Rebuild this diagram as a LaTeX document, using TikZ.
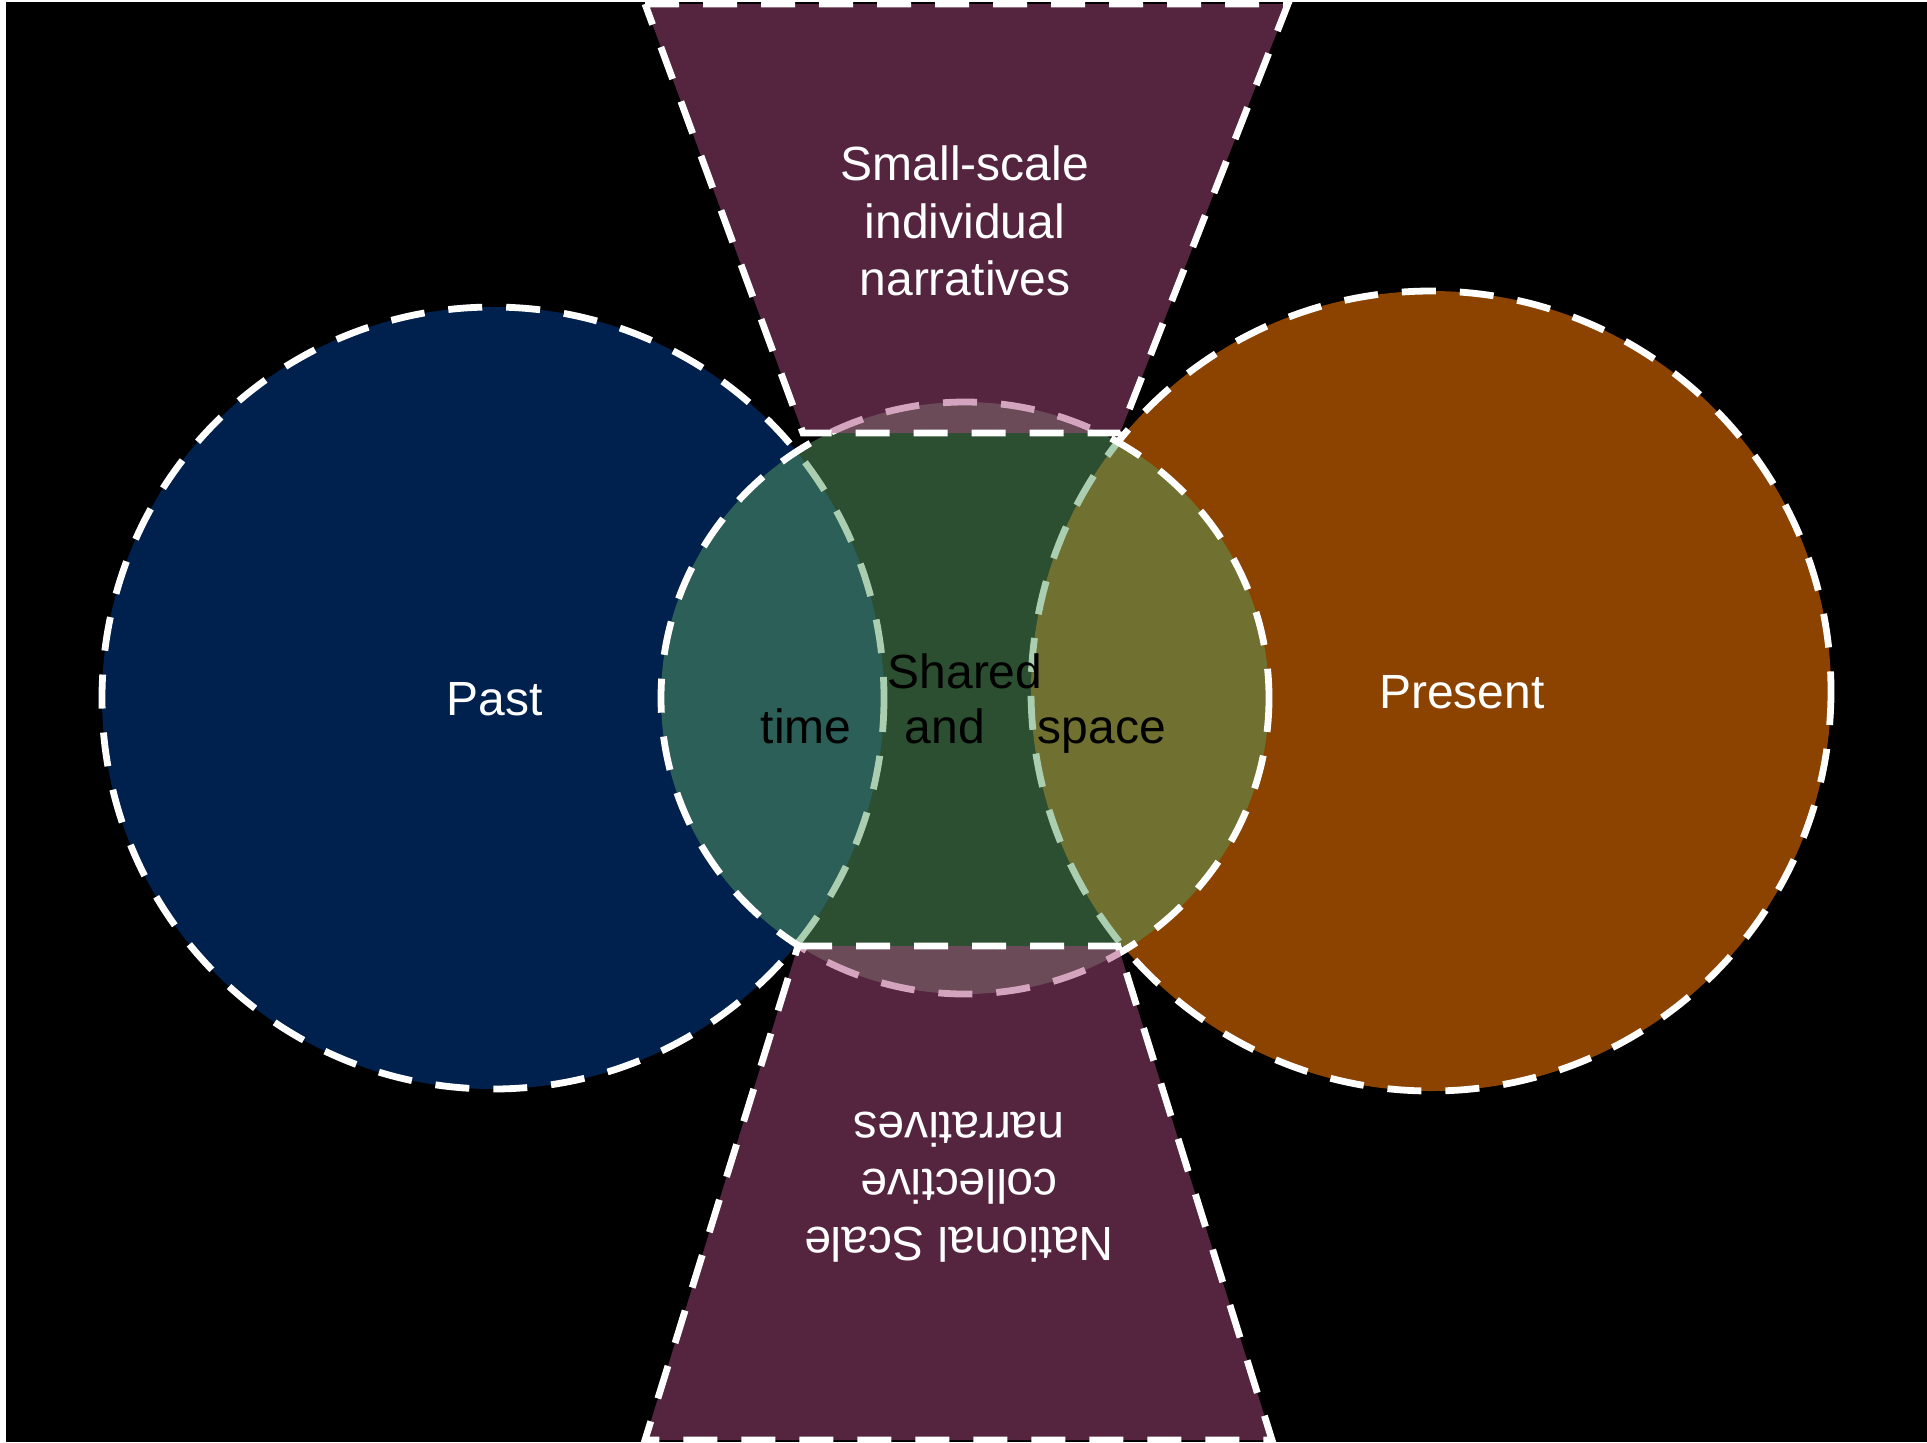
\documentclass[tikz,border=0pt]{standalone}
\usepackage{fontspec}
\setmainfont{Liberation Sans}
\definecolor{pastblue}{RGB}{0,32,78}
\definecolor{presorange}{RGB}{140,67,0}
\definecolor{midgreen}{RGB}{86,158,96}
\definecolor{trappurple}{RGB}{170,72,126}
\begin{document}
\begin{tikzpicture}[x=0.5pt,y=-0.5pt,
  outl/.style={draw=white, line width=3.4pt, dash pattern=on 17pt off 12pt},
  lbl/.style={font=\fontsize{24}{28.8}\selectfont, align=center, inner sep=0pt}]
\useasboundingbox (0,0) rectangle (1927,1442);
\fill[white] (0,0) rectangle (1927,1442);
\fill[black] (6,2) rectangle (1927,1442);
% Past and Present circles
\path[outl, fill=pastblue] (493,698) circle[radius=391];
\path[outl, fill=presorange] (1431,691) circle[radius=400];
% middle translucent circle
\path[outl, fill=midgreen, fill opacity=0.5] (965,698) ellipse[x radius=304, y radius=296];
% trapezoids
\path[outl, fill=trappurple, fill opacity=0.5] (645,4) -- (1288,4) -- (1120,433) -- (803,433) -- cycle;
\path[outl, fill=trappurple, fill opacity=0.5] (798,946) -- (1118,946) -- (1272,1440) -- (645,1440) -- cycle;
% labels
\node[lbl, text=white] (past) at (495,699) {Past};
\node[lbl, text=white] (present) at (1462,692) {Present};
\node[lbl, text=white] (small) at (965,221) {Small-scale\\individual\\narratives};
\node[lbl, text=white, rotate=180] (national) at (959,1187) {National Scale\\collective\\narratives};
\node[lbl, text=black, anchor=base] (shared) at (965,688) {Shared};
\node[lbl, text=black, anchor=base] (and) at (945,743) {and};
\node[lbl, text=black, anchor=base] (time) at (806,743) {time};
\node[lbl, text=black, anchor=base] (space) at (1102,743) {space};
\end{tikzpicture}
\end{document}
